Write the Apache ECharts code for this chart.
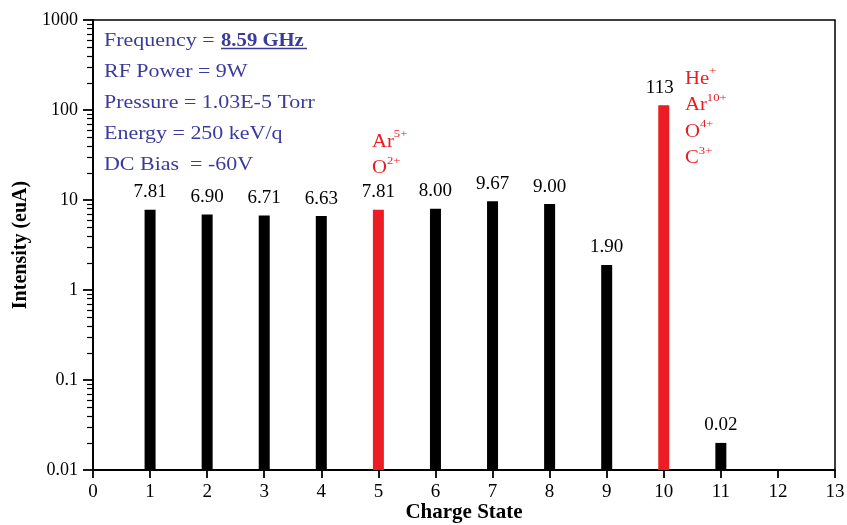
<!DOCTYPE html>
<html><head><meta charset="utf-8">
<script src="https://cdn.jsdelivr.net/npm/echarts@6/dist/echarts.min.js"></script>
<style>html,body{margin:0;padding:0;background:#fff}#c{width:847px;height:525px}</style>
</head><body><div id="c"></div>
<script>
const chargeStates = [1, 2, 3, 4, 5, 6, 7, 8, 9, 10, 11];
const intensities = [7.81, 6.90, 6.71, 6.63, 7.81, 8.00, 9.67, 9.00, 1.90, 113, 0.02];
const labelsText = ['7.81', '6.90', '6.71', '6.63', '7.81', '8.00', '9.67', '9.00', '1.90', '113', '0.02'];
const highlighted = [5, 10];
const yTicks = [0.01, 0.1, 1, 10, 100, 1000];
const minorMultipliers = [2, 3, 4, 5, 6, 7, 8, 9];
const infoLines = ['Frequency = ', 'RF Power = 9W', 'Pressure = 1.03E-5 Torr', 'Energy = 250 keV/q', 'DC Bias  = -60V'];

const minorTickValues = [];
yTicks.slice(0, -1).forEach(d => minorMultipliers.forEach(m => minorTickValues.push(+(d * m).toPrecision(3))));

const serif = '"Liberation Serif", "DejaVu Serif", serif';
const blue = '#3b3b9c';
const red = '#ec1c24';

const chart = echarts.init(document.getElementById('c'));
const data = chargeStates.map((c, i) => {
  const isRed = highlighted.includes(c);
  const item = {
    value: [c, intensities[i]],
    itemStyle: { color: isRed ? red : '#000' },
    label: { formatter: labelsText[i] }
  };
  if (c === 10) item.label.offset = [-4, 0];
  return item;
});

const infoGraphics = infoLines.map((t, i) => ({
  type: 'text', x: 104, y: 41 + i * 31, scaleX: 1.22,
  style: { x: 0, y: 0, text: t, font: '18px ' + serif, fill: blue, verticalAlign: 'middle' }
}));

const richRed = {
  b: { font: '18px ' + serif, fill: red, lineHeight: 26.5 },
  s: { font: '11px ' + serif, fill: red, verticalAlign: 'top', lineHeight: 26.5, padding: [0, 0, 8, 0] }
};

chart.setOption({
  animation: false,
  grid: { left: 93, right: 12, top: 20, bottom: 55, show: true, borderColor: '#000', borderWidth: 1.5,
          containLabel: false, outerBoundsMode: 'none' },
  xAxis: {
    type: 'value', min: 0, max: 13, interval: 1,
    name: 'Charge State', nameLocation: 'middle', nameGap: 32, nameMoveOverlap: false,
    nameTextStyle: { fontFamily: serif, fontWeight: 'bold', fontSize: 21, color: '#000' },
    axisLine: { lineStyle: { color: '#000', width: 1.8 } },
    axisTick: { lineStyle: { color: '#000', width: 1.8 }, length: 8 },
    axisLabel: { fontFamily: serif, fontSize: 19, color: '#000', margin: 13 },
    splitLine: { show: false }
  },
  yAxis: [{
    type: 'log', min: 0.01, max: 1000, logBase: 10, startValue: 0.01,
    name: 'Intensity (euA)', nameLocation: 'middle', nameGap: 62, nameMoveOverlap: false,
    nameTextStyle: { fontFamily: serif, fontWeight: 'bold', fontSize: 20, color: '#000' },
    axisLine: { show: true, lineStyle: { color: '#000', width: 2 } },
    axisTick: { show: true, lineStyle: { color: '#000', width: 1.8 }, length: 10 },
    axisLabel: { fontFamily: serif, fontSize: 18, color: '#000', margin: 15,
      formatter: v => { const s = yTicks.find(t => Math.abs(t - v) / t < 1e-6); return s !== undefined ? String(s) : ''; } },
    splitLine: { show: false }
  }, {
    type: 'log', min: 0.01, max: 1000, logBase: 10, position: 'left', offset: 0,
    axisLine: { show: false },
    axisTick: { show: true, customValues: minorTickValues, length: 6, lineStyle: { color: '#000', width: 1.2 } },
    axisLabel: { show: false },
    splitLine: { show: false }
  }],
  series: [{
    type: 'bar', data: data, barWidth: 11, yAxisIndex: 0,
    label: { show: true, position: 'top', distance: 8, fontFamily: serif, fontSize: 19, color: '#000' }
  }],
  graphic: infoGraphics.concat([
    { type: 'text', x: 221, y: 41, scaleX: 1.15,
      style: { x: 0, y: 0, text: '8.59 GHz', font: 'bold 18px ' + serif, fill: blue, verticalAlign: 'middle' } },
    { type: 'line', shape: { x1: 221, y1: 48.5, x2: 307, y2: 48.5 }, style: { stroke: blue, lineWidth: 1.6 } },
    { type: 'text', x: 372, y: 129, scaleX: 1.15,
      style: { x: 0, y: 0, text: '{b|Ar}{s|5+}\n{b|O}{s|2+}', fill: red, rich: richRed } },
    { type: 'text', x: 685, y: 66, scaleX: 1.15,
      style: { x: 0, y: 0, text: '{b|He}{s|+}\n{b|Ar}{s|10+}\n{b|O}{s|4+}\n{b|C}{s|3+}', fill: red, rich: richRed } }
  ])
});
</script></body></html>
